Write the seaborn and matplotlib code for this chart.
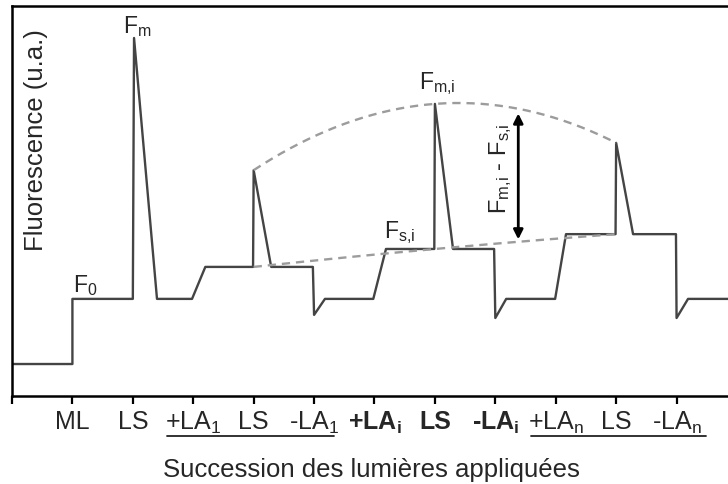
import numpy as np
import pandas as pd
import matplotlib
matplotlib.use("Agg")
import matplotlib.pyplot as plt
import matplotlib.transforms as mtransforms
import seaborn as sns

# Applied light sequence (x positions are the light-change instants)
tick_pos = list(range(0, 12))
tick_labels = ["", "ML", "LS", "+LA$_1$", "LS", "-LA$_1$",
               "+LA$_i$", "LS", "-LA$_i$", "+LA$_n$", "LS", "-LA$_n$"]
bold_ticks = [6, 7, 8]

# Fluorescence levels (a.u.)
base_level = 8.2
f0_level = 24.9
fm_peak = 91.8
la1_level = 33.1
la1_peak = 57.9
la1_dip = 20.8
lai_level = 37.7
lai_peak = 74.9
lai_dip = 20.0
lan_level = 41.5
lan_peak = 64.9
lan_dip = 20.0

# Fluorescence trace: time (in light-step units) and signal
trace_t = [0.0, 1.0, 1.0, 2.0, 2.02, 2.4, 2.98, 3.2, 3.99, 4.0, 4.29, 4.98,
           5.0, 5.18, 5.98, 6.19, 6.99, 7.0, 7.3, 7.98, 8.0, 8.18, 8.99,
           9.17, 9.99, 10.0, 10.28, 10.99, 11.0, 11.19, 12.2]
trace_f = [base_level, base_level, f0_level, f0_level, fm_peak, f0_level,
           f0_level, la1_level, la1_level, la1_peak, la1_level, la1_level,
           la1_dip, f0_level, f0_level, lai_level, lai_level, lai_peak,
           lai_level, lai_level, lai_dip, f0_level, f0_level, lan_level,
           lan_level, lan_peak, lan_level, lan_level, lan_dip, f0_level,
           f0_level]

df = pd.DataFrame({"t": trace_t, "F": trace_f})

sns.set_theme(style="white")
plt.rcParams["font.family"] = ["Liberation Sans", "DejaVu Sans"]
plt.rcParams["mathtext.default"] = "regular"

fig = plt.figure(figsize=(7.28, 4.84), dpi=100)
ax = fig.add_axes([12 / 728, 88 / 484, 728 / 728, 390 / 484])

sns.lineplot(data=df, x="t", y="F", sort=False, estimator=None,
             color="#444444", linewidth=1.7, ax=ax)

# Envelopes through the LS peaks and the steady-state levels
peak_t = [4.0, 7.0, 10.0]
peak_f = [la1_peak, lai_peak, lan_peak]
steady_f = [la1_level, lai_level, lan_level]
up_coef = np.polyfit(peak_t, peak_f, 2)
lo_coef = np.polyfit(peak_t, steady_f, 2)
env_t = np.linspace(4.0, 10.0, 200)
dash = (0, (3.5, 2.5))
ax.plot(env_t, np.polyval(up_coef, env_t), color="#9c9c9c", lw=1.7, ls=dash)
ax.plot(env_t, np.polyval(lo_coef, env_t), color="#9c9c9c", lw=1.7, ls=dash)

# Double arrow Fm,i - Fs,i
arrow_t = 8.38
up_y = np.polyval(up_coef, arrow_t)
lo_y = np.polyval(lo_coef, arrow_t)
ax.annotate("", xy=(arrow_t, up_y - 1.2), xytext=(arrow_t, lo_y + 0.6),
            arrowprops=dict(arrowstyle="<|-|>", color="black", lw=2.0,
                            mutation_scale=14, shrinkA=0, shrinkB=0))
ax.text(8.08, 58.2, "F$_{m{,}i}$ - F$_{s{,}i}$", rotation=90,
        ha="center", va="center", fontsize=17)

# Point labels
lab_fs = 16.5
ax.text(1.01, 26.7, "F$_0$", fontsize=lab_fs, ha="left", va="baseline")
ax.text(1.84, 93.1, "F$_m$", fontsize=lab_fs, ha="left", va="baseline")
ax.text(6.74, 78.7, "F$_{m{,}i}$", fontsize=lab_fs, ha="left", va="baseline")
ax.text(6.16, 40.5, "F$_{s{,}i}$", fontsize=lab_fs, ha="left", va="baseline")
ax.text(0.40, 65.6, "Fluorescence (u.a.)", rotation=90, fontsize=18.5,
        ha="center", va="center")

ax.set_xlim(0, 12.05)
ax.set_ylim(0, 100)
ax.set_xticks(tick_pos)
ax.set_xticklabels(tick_labels, fontsize=18)
for i in bold_ticks:
    ax.get_xticklabels()[i].set_fontweight("bold")
ax.set_yticks([])
ax.set_xlabel("")
ax.set_ylabel("")
fig.text(371.5 / 728, (484 - 477) / 484, "Succession des lumières appliquées",
         fontsize=18.5, ha="center", va="baseline")

for side in ["left", "top", "bottom"]:
    ax.spines[side].set_visible(True)
    ax.spines[side].set_color("black")
    ax.spines[side].set_linewidth(1.8)
ax.spines["right"].set_visible(False)
ax.tick_params(axis="x", direction="out", length=6, width=1.6,
               color="black", bottom=True, pad=4)

# Underlines grouping the first and last LA sequences
trans = mtransforms.blended_transform_factory(ax.transData, fig.transFigure)
uy = (484 - 436) / 484
for x0, x1 in [(2.57, 5.33), (8.59, 11.49)]:
    ax.plot([x0, x1], [uy, uy], color="#222222", lw=1.3,
            transform=trans, clip_on=False)

fig.savefig("out.png", dpi=100)
